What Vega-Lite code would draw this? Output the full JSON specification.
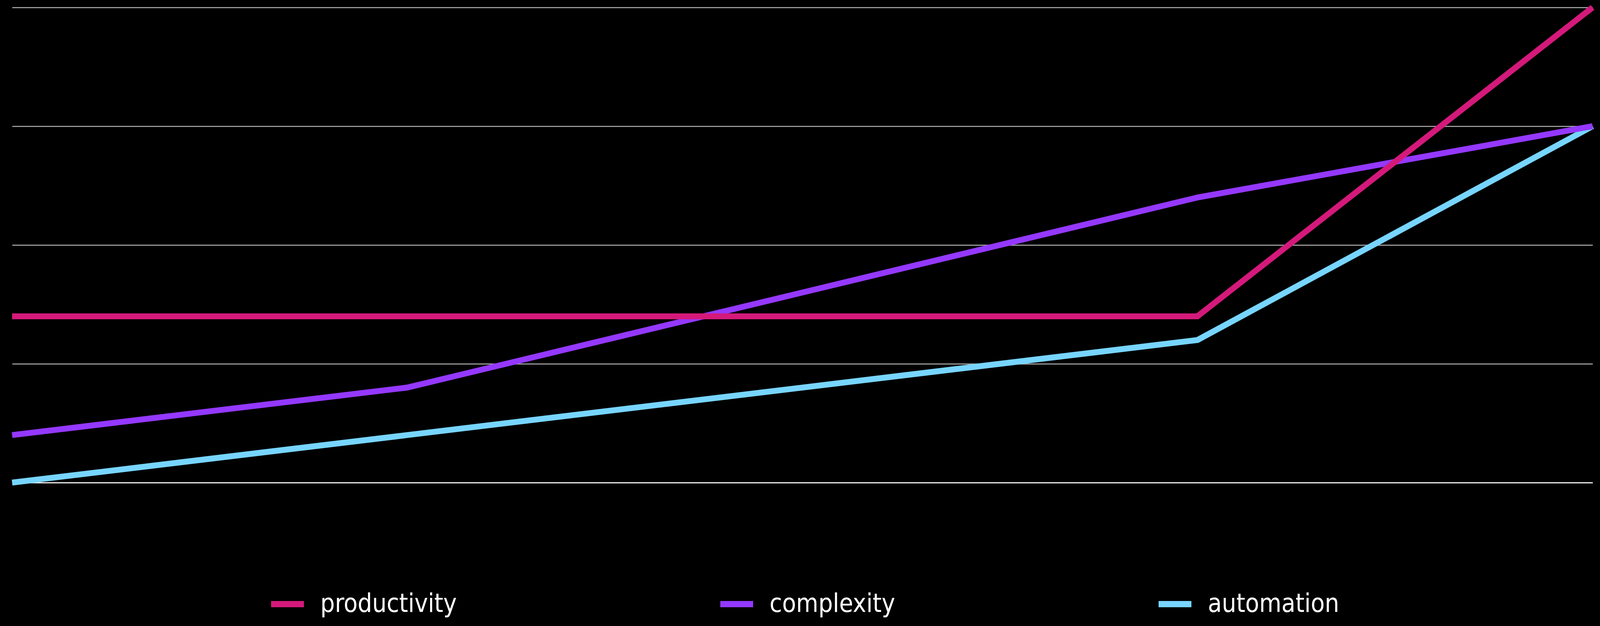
{
  "$schema": "https://vega.github.io/schema/vega-lite/v6.json",
  "background": "#000000",
  "width": 4046,
  "height": 1216,
  "padding": {"left": 31, "top": 19, "right": 19, "bottom": 367},
  "autosize": {"type": "none"},
  "data": {
    "values": [
      {"x": 0, "series": "automation", "value": 0},
      {"x": 1, "series": "automation", "value": 0.4},
      {"x": 3, "series": "automation", "value": 1.2},
      {"x": 4, "series": "automation", "value": 3},
      {"x": 0, "series": "complexity", "value": 0.4},
      {"x": 1, "series": "complexity", "value": 0.8},
      {"x": 3, "series": "complexity", "value": 2.4},
      {"x": 4, "series": "complexity", "value": 3},
      {"x": 0, "series": "productivity", "value": 1.4},
      {"x": 1, "series": "productivity", "value": 1.4},
      {"x": 3, "series": "productivity", "value": 1.4},
      {"x": 4, "series": "productivity", "value": 4}
    ]
  },
  "mark": {"type": "line", "strokeWidth": 15, "strokeJoin": "miter", "strokeCap": "butt"},
  "encoding": {
    "x": {
      "field": "x",
      "type": "quantitative",
      "scale": {"domain": [0, 4], "nice": false, "zero": false},
      "axis": {"labels": false, "ticks": false, "grid": false, "title": null, "domain": true, "domainColor": "#ffffff", "domainWidth": 2.5, "minExtent": 0, "maxExtent": 0, "offset": 0}
    },
    "y": {
      "field": "value",
      "type": "quantitative",
      "scale": {"domain": [0, 4], "nice": false},
      "axis": {"values": [0, 1, 2, 3, 4], "labels": false, "ticks": false, "domain": false, "title": null, "grid": true, "gridColor": "#b4b4b4", "gridWidth": 2.5, "gridOpacity": 1, "minExtent": 0, "maxExtent": 0}
    },
    "color": {
      "field": "series",
      "type": "nominal",
      "scale": {"domain": ["productivity", "complexity", "automation"], "range": ["#d4197a", "#9438ff", "#77d5ff"]},
      "legend": {
        "title": null,
        "orient": "none",
        "legendX": 655,
        "legendY": 1477,
        "direction": "horizontal",
        "columns": 3,
        "columnPadding": 642,
        "padding": 0,
        "symbolType": "stroke",
        "symbolSize": 7056,
        "symbolStrokeWidth": 16,
        "labelOffset": 34,
        "labelFont": "DejaVu Sans Condensed, sans-serif",
        "labelFontSize": 65,
        "labelColor": "#ffffff",
        "labelLimit": 0
      }
    }
  },
  "config": {"view": {"stroke": null}}
}
